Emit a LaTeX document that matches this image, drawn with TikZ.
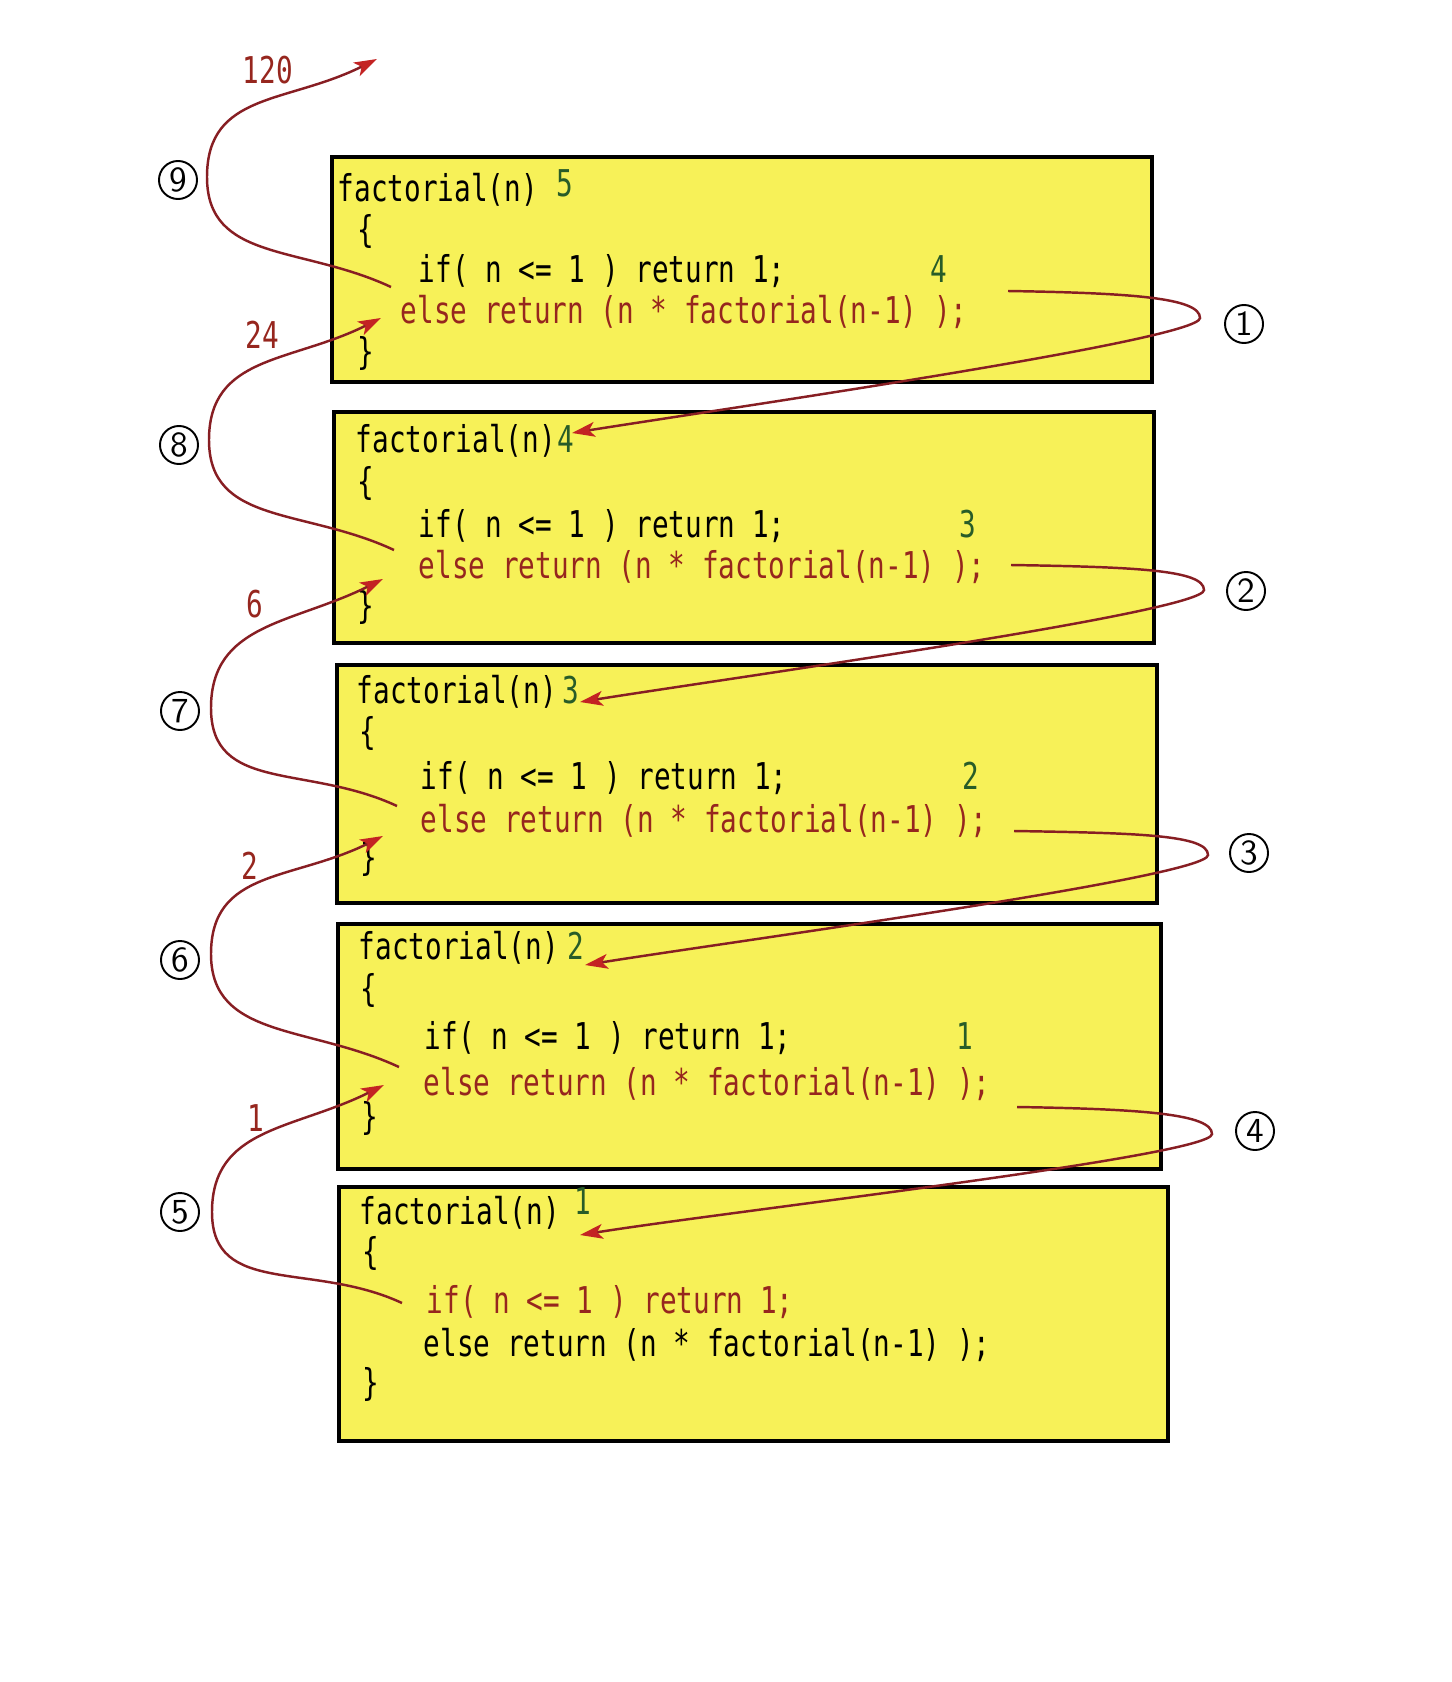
\documentclass[tikz,border=0pt]{standalone}
\usepackage{fontspec}
\usepackage{xcolor}
\usepackage{tikz}
\usetikzlibrary{arrows.meta}
\newfontfamily\codefont[FakeStretch=0.75]{DejaVu Sans Mono}
\definecolor{boxyellow}{RGB}{247,241,88}
\definecolor{codered}{RGB}{150,38,30}
\definecolor{valgreen}{RGB}{40,92,40}
\definecolor{linered}{RGB}{135,30,35}
\definecolor{tipred}{RGB}{195,35,35}

\begin{document}
\begin{tikzpicture}[x=0.01cm, y=-0.01cm,
  frame/.style={draw=black, line width=1pt, fill=boxyellow, anchor=north west, inner sep=0pt},
  code/.style={font=\codefont\fontsize{10.5}{12}\selectfont, anchor=base west, inner sep=0pt},
  redcode/.style={code, text=codered},
  val/.style={code, text=valgreen},
  retval/.style={code, text=codered, anchor=center},
  cnum/.style={circle, draw, line width=0.55pt, inner sep=0pt, minimum size=0.38cm,
    font=\sffamily\fontsize{10}{10}\selectfont},
  flow/.style={draw=linered, line width=0.7pt,
    -{Stealth[length=6.5pt, width=4.2pt, inset=1.6pt, color=tipred]}}]
  \useasboundingbox (0,0) rectangle (1451,1682);

  % call frames
  \node[frame, minimum width=8.20cm, minimum height=2.25cm] (box1) at (330,155) {};
  \node[frame, minimum width=8.20cm, minimum height=2.31cm] (box2) at (332,410) {};
  \node[frame, minimum width=8.20cm, minimum height=2.38cm] (box3) at (335,663) {};
  \node[frame, minimum width=8.23cm, minimum height=2.45cm] (box4) at (336,922) {};
  \node[frame, minimum width=8.29cm, minimum height=2.54cm] (box5) at (337,1185) {};

  % factorial(5)
  \node[code] (head1) at (337,202) {factorial(n)};
  \node[val] (arg1) at (556,196) {5};
  \node[code] (open1) at (357,242) {\{};
  \node[code] (if1) at (418,282) {if( n <= 1 ) return 1;};
  \node[redcode] (else1) at (400,323) {else return (n * factorial(n-1) );};
  \node[code] (close1) at (357,364) {\}};
  \node[val, anchor=base] (next1) at (939,282) {4};

  % factorial(4)
  \node[code] (head2) at (355,452) {factorial(n)};
  \node[val] (arg2) at (head2.base east) {4};
  \node[code] (open2) at (357,494) {\{};
  \node[code] (if2) at (418,537) {if( n <= 1 ) return 1;};
  \node[redcode] (else2) at (418,578) {else return (n * factorial(n-1) );};
  \node[code] (close2) at (357,618) {\}};
  \node[val, anchor=base] (next2) at (968,537) {3};

  % factorial(3)
  \node[code] (head3) at (356,703) {factorial(n)};
  \node[val] (arg3) at (562,703) {3};
  \node[code] (open3) at (359,744) {\{};
  \node[code] (if3) at (420,789) {if( n <= 1 ) return 1;};
  \node[redcode] (else3) at (420,832) {else return (n * factorial(n-1) );};
  \node[code] (close3) at (360,870) {\}};
  \node[val, anchor=base] (next3) at (971,789) {2};

  % factorial(2)
  \node[code] (head4) at (358,959) {factorial(n)};
  \node[val] (arg4) at (567,959) {2};
  \node[code] (open4) at (360,1001) {\{};
  \node[code] (if4) at (424,1049) {if( n <= 1 ) return 1;};
  \node[redcode] (else4) at (423,1095) {else return (n * factorial(n-1) );};
  \node[code] (close4) at (361,1129) {\}};
  \node[val, anchor=base] (next4) at (965,1049) {1};

  % factorial(1)
  \node[code] (head5) at (359,1224) {factorial(n)};
  \node[val] (arg5) at (574,1214) {1};
  \node[code] (open5) at (362,1264) {\{};
  \node[redcode] (if5) at (426,1313) {if( n <= 1 ) return 1;};
  \node[code] (else5) at (423,1356) {else return (n * factorial(n-1) );};
  \node[code] (close5) at (362,1395) {\}};

  % step numbers
  \node[cnum] (step1) at (1244,324) {1};
  \node[cnum] (step2) at (1246,591) {2};
  \node[cnum] (step3) at (1249,853) {3};
  \node[cnum] (step4) at (1255,1131) {4};
  \node[cnum] (step5) at (180,1212) {5};
  \node[cnum] (step6) at (180,960) {6};
  \node[cnum] (step7) at (180,711) {7};
  \node[cnum] (step8) at (179,445) {8};
  \node[cnum] (step9) at (178,180) {9};

  % returned values
  \node[retval] (ret120) at (268,70) {120};
  \node[retval] (ret24) at (262,335) {24};
  \node[retval] (ret6) at (255,604) {6};
  \node[retval] (ret2) at (250,866) {2};
  \node[retval] (ret1) at (256,1118) {1};

  % ends of the call arrows
  \coordinate (cs1) at (1008,291); \coordinate (ct1) at (1200,318); \coordinate (ce1) at (572,433);
  \coordinate (cs2) at (1011,565); \coordinate (ct2) at (1204,590); \coordinate (ce2) at (580,702);
  \coordinate (cs3) at (1014,831); \coordinate (ct3) at (1208,855); \coordinate (ce3) at (585,965);
  \coordinate (cs4) at (1017,1107); \coordinate (ct4) at (1212,1134); \coordinate (ce4) at (580,1235);
  % ends of the return arrows
  \coordinate (rs5) at (402,1303); \coordinate (rl5) at (212,1212); \coordinate (re5) at (384,1085);
  \coordinate (rs6) at (399,1067); \coordinate (rl6) at (211,954); \coordinate (re6) at (383,836);
  \coordinate (rs7) at (397,806); \coordinate (rl7) at (211,708); \coordinate (re7) at (383,579);
  \coordinate (rs8) at (394,550); \coordinate (rl8) at (209,440); \coordinate (re8) at (381,318);
  \coordinate (rs9) at (391,287); \coordinate (rl9) at (207,177); \coordinate (re9) at (377,59);

  % calls
  \foreach \i in {1,...,4}
    \draw[flow] (cs\i) .. controls +(125,2) and +(0,-20) .. (ct\i)
      .. controls +(0,22) and +(150,-24) .. (ce\i);
  % returns
  \foreach \i in {5,...,9}
    \draw[flow] (rs\i) .. controls +(-90,-42) and +(0,85) .. (rl\i)
      .. controls +(0,-85) and +(-90,45) .. (re\i);
\end{tikzpicture}
\end{document}
